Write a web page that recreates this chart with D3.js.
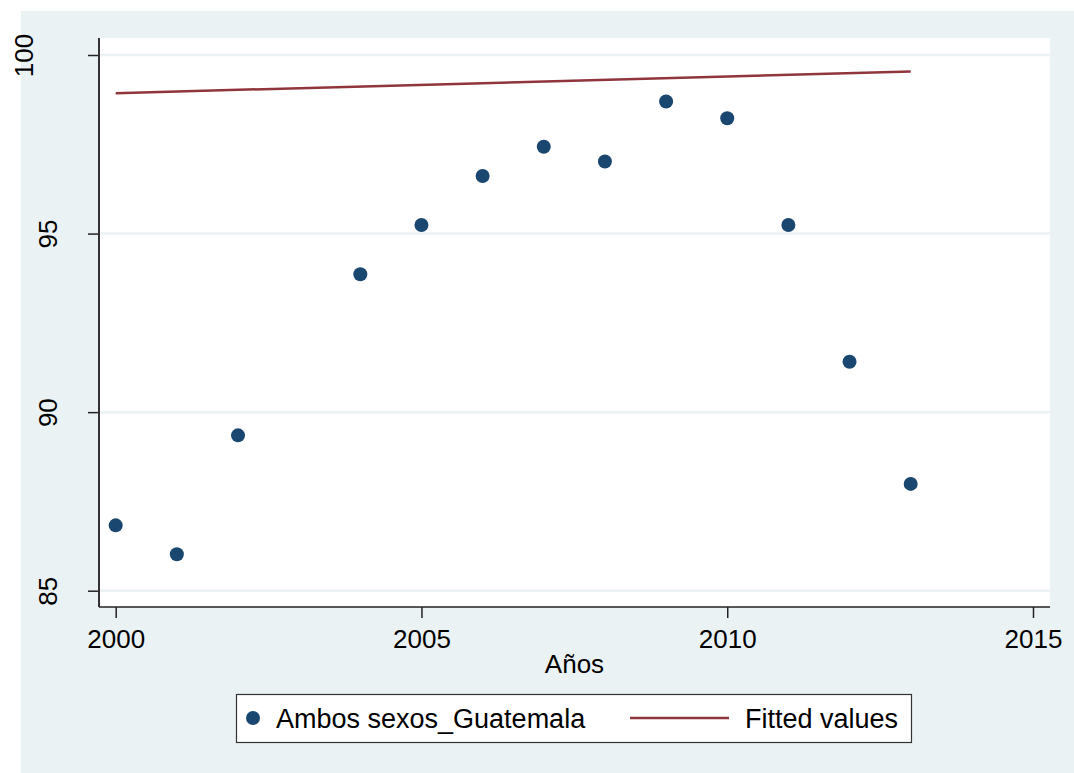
<!DOCTYPE html>
<html>
<head>
<meta charset="utf-8">
<script src="https://cdn.jsdelivr.net/npm/d3@7"></script>
<style>
  body { margin: 0; background: #fff; }
  text { font-family: "Liberation Sans", Arial, sans-serif; fill: #000; }
</style>
</head>
<body>
<svg id="chart"></svg>
<script>
// ---------------- Data ----------------
var years = [2000, 2001, 2002, 2004, 2005, 2006, 2007, 2008, 2009, 2010, 2011, 2012, 2013];
var values = [86.83, 86.02, 89.35, 93.86, 95.24, 96.61, 97.43, 97.02, 98.70, 98.23, 95.24, 91.41, 87.99];
var fitYears = [2000, 2013];
var fitValues = [98.93, 99.54];
var xTicks = [2000, 2005, 2010, 2015];
var yTicks = [85, 90, 95, 100];
var seriesNames = ["Ambos sexos_Guatemala", "Fitted values"];

// ---------------- Layout ----------------
var width = 1074, height = 773;
var plot = { left: 99, right: 1050, top: 38, bottom: 607 };
var dotColor = "#1a476f", lineColor = "#90353b", bgColor = "#eaf2f3";

var svg = d3.select("#chart").attr("width", width).attr("height", height);

// outer background
svg.append("rect")
  .attr("x", 21).attr("y", 11)
  .attr("width", width - 21).attr("height", height - 11)
  .attr("fill", bgColor);

// plot region
svg.append("rect")
  .attr("x", plot.left).attr("y", plot.top)
  .attr("width", plot.right - plot.left).attr("height", plot.bottom - plot.top)
  .attr("fill", "#fff");

var x = d3.scaleLinear().domain([2000, 2015]).range([115.7, 1033]);
var y = d3.scaleLinear().domain([85, 100]).range([590.7, 55]);

// gridlines
svg.append("g")
  .selectAll("line")
  .data(yTicks)
  .enter()
  .append("line")
    .attr("x1", plot.left).attr("x2", plot.right)
    .attr("y1", d => y(d)).attr("y2", d => y(d))
    .attr("stroke", bgColor)
    .attr("stroke-width", 2.5);

// y axis
var yAxis = svg.append("g")
  .attr("transform", `translate(${plot.left},0)`)
  .call(d3.axisLeft(y).tickValues(yTicks).tickSize(11).tickFormat(d3.format("d")));
yAxis.select(".domain").remove();
yAxis.selectAll(".tick line").attr("stroke", "#222").attr("stroke-width", 1.5);
yAxis.selectAll(".tick text")
  .attr("font-size", 26)
  .attr("text-anchor", "middle")
  .attr("x", null).attr("dy", null)
  .attr("transform", function(d) {
      var base = String(d).length > 2 ? -66 : -42;
      return `translate(${base},0) rotate(-90)`;
  });

// x axis
var xAxis = svg.append("g")
  .attr("transform", `translate(0,${plot.bottom})`)
  .call(d3.axisBottom(x).tickValues(xTicks).tickSize(11).tickFormat(d3.format("d")));
xAxis.select(".domain").remove();
xAxis.selectAll(".tick line").attr("stroke", "#222").attr("stroke-width", 1.5);
xAxis.selectAll(".tick text")
  .attr("font-size", 26)
  .attr("y", 41).attr("dy", null);

// axis lines
svg.append("line")
  .attr("x1", plot.left).attr("x2", plot.left)
  .attr("y1", plot.top).attr("y2", plot.bottom)
  .attr("stroke", "#333").attr("stroke-width", 2);
svg.append("line")
  .attr("x1", plot.left).attr("x2", plot.right)
  .attr("y1", plot.bottom).attr("y2", plot.bottom)
  .attr("stroke", "#222").attr("stroke-width", 1.5);

// axis title
svg.append("text")
  .attr("x", (plot.left + plot.right) / 2)
  .attr("y", 673)
  .attr("text-anchor", "middle")
  .attr("font-size", 26)
  .text("Años");

// fitted line
var line = d3.line().x(d => x(d[0])).y(d => y(d[1]));
svg.append("path")
  .datum(d3.zip(fitYears, fitValues))
  .attr("d", line)
  .attr("fill", "none")
  .attr("stroke", lineColor)
  .attr("stroke-width", 2.5);

// points
svg.append("g")
  .selectAll("circle")
  .data(d3.zip(years, values))
  .enter()
  .append("circle")
    .attr("cx", d => x(d[0]))
    .attr("cy", d => y(d[1]))
    .attr("r", 7)
    .attr("fill", dotColor);

// legend
var legend = svg.append("g");
legend.append("rect")
  .attr("x", 236.5).attr("y", 694.5)
  .attr("width", 675).attr("height", 48)
  .attr("fill", "#fff")
  .attr("stroke", "#333").attr("stroke-width", 1.2);
legend.append("circle")
  .attr("cx", 253).attr("cy", 718).attr("r", 7)
  .attr("fill", dotColor);
legend.append("text")
  .attr("x", 276).attr("y", 727.5)
  .attr("font-size", 27)
  .text(seriesNames[0]);
legend.append("line")
  .attr("x1", 630).attr("x2", 729)
  .attr("y1", 718).attr("y2", 718)
  .attr("stroke", lineColor).attr("stroke-width", 2.5);
legend.append("text")
  .attr("x", 745).attr("y", 727.5)
  .attr("font-size", 27)
  .text(seriesNames[1]);
</script>
</body>
</html>
